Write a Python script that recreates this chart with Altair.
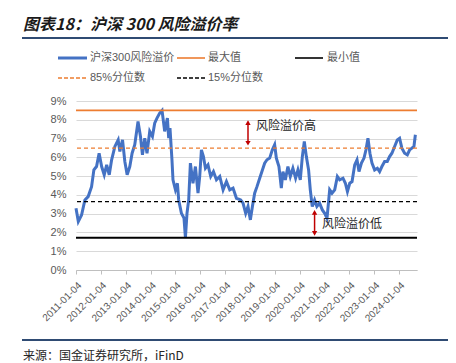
import altair as alt
import pandas as pd

# ---- data ----
dates = [
    "2011-01-04", "2011-02-07", "2011-03-27", "2011-05-15", "2011-07-02", "2011-08-21",
    "2011-09-24", "2011-11-02", "2011-12-10", "2012-01-16", "2012-02-23", "2012-03-30",
    "2012-05-07", "2012-06-11", "2012-07-29", "2012-09-15", "2012-10-10", "2012-11-18",
    "2012-12-22", "2013-01-25", "2013-03-05", "2013-04-08", "2013-05-17", "2013-07-04",
    "2013-08-09", "2013-09-07", "2013-10-11", "2013-11-13", "2013-12-23", "2014-02-01",
    "2014-03-06", "2014-04-09", "2014-05-19", "2014-06-22", "2014-07-31", "2014-09-09",
    "2014-09-28", "2014-10-17", "2014-11-15", "2014-11-30", "2015-01-05", "2015-02-03",
    "2015-02-22", "2015-04-03", "2015-05-11", "2015-06-01", "2015-06-24", "2015-07-19",
    "2015-08-13", "2015-09-20", "2015-10-26", "2015-12-03", "2015-12-28", "2016-01-22",
    "2016-02-21", "2016-03-21", "2016-04-28", "2016-06-07", "2016-07-17", "2016-08-30",
    "2016-10-18", "2016-12-06", "2017-01-24", "2017-03-14", "2017-05-01", "2017-06-20",
    "2017-08-22", "2017-09-25", "2017-11-03", "2017-12-07", "2018-01-11", "2018-02-10",
    "2018-03-15", "2018-04-18", "2018-05-28", "2018-07-07", "2018-08-09", "2018-09-12",
    "2018-10-22", "2018-11-30", "2019-01-03", "2019-01-28", "2019-03-07", "2019-04-11",
    "2019-05-05", "2019-06-09", "2019-07-17", "2019-08-21", "2019-09-28", "2019-11-07",
    "2019-12-11", "2020-01-15", "2020-02-14", "2020-03-14", "2020-04-13", "2020-05-16",
    "2020-06-10", "2020-07-09", "2020-08-12", "2020-09-15", "2020-10-25", "2020-12-04",
    "2021-01-08", "2021-02-11", "2021-03-22", "2021-04-25", "2021-06-04", "2021-07-13",
    "2021-08-16", "2021-10-04", "2021-11-08", "2021-12-08", "2022-01-11", "2022-02-14",
    "2022-03-25", "2022-04-28", "2022-05-27", "2022-07-02", "2022-08-09", "2022-09-07",
    "2022-10-06", "2022-11-04", "2022-12-04", "2023-01-12", "2023-02-21", "2023-03-26",
    "2023-04-29", "2023-06-08", "2023-07-17", "2023-08-20", "2023-09-23", "2023-11-02",
    "2023-12-11", "2024-01-14", "2024-02-17", "2024-03-28", "2024-05-07", "2024-06-10",
    "2024-07-13", "2024-08-12", "2024-09-02",
]
premium = [
    3.29, 2.58, 2.93, 3.73, 3.91, 4.44,
    5.33, 5.51, 6.22, 5.51, 5.07, 5.60,
    5.07, 5.87, 6.58, 6.93, 6.31, 6.93,
    5.78, 5.07, 5.51, 6.22, 6.67, 7.91,
    7.11, 6.13, 7.02, 6.22, 7.38, 7.11,
    7.82, 8.09, 8.36, 8.50, 7.38, 8.09,
    7.02, 7.56, 5.87, 4.80, 4.27, 4.62,
    3.73, 3.02, 2.76, 1.72, 3.02, 3.73,
    5.69, 4.62, 5.51, 4.09, 4.98, 6.40,
    6.04, 5.42, 5.60, 4.98, 5.24, 4.80,
    4.98, 4.27, 4.71, 4.27, 4.36, 3.82,
    3.73, 3.56, 3.02, 3.38, 2.67, 3.38,
    4.09, 4.44, 4.89, 5.33, 5.69, 5.87,
    5.96, 6.40, 6.67, 5.96, 5.51, 4.36,
    5.24, 4.80, 5.51, 4.98, 5.42, 4.89,
    5.33, 4.80, 6.04, 6.84, 6.04, 5.33,
    4.27, 3.38, 3.73, 3.38, 3.56, 3.20,
    3.02, 2.76, 4.27, 4.09, 4.27, 4.98,
    4.80, 4.89, 4.62, 4.18, 4.62, 4.71,
    5.60, 5.87, 5.24, 5.69, 5.96, 6.40,
    7.02, 6.22, 5.69, 5.33, 5.42, 5.24,
    5.51, 5.78, 5.78, 6.04, 6.22, 6.58,
    6.93, 7.02, 6.49, 6.22, 6.13, 6.40,
    6.49, 6.58, 7.20,
]
ref_names = ["最大值", "85%分位数", "15%分位数", "最小值"]
ref_values = [8.50, 6.49, 3.64, 1.72]
ref_colors = ["#ed7d31", "#ed7d31", "#000000", "#000000"]
ref_dashes = [[1, 0], [4, 3], [4, 3], [1, 0]]
ref_widths = [1.6, 1.4, 1.4, 2.0]

tick_years = list(range(2011, 2025))
y_ticks = list(range(0, 10))

arrow_dates = ["2017-12-07", "2020-08-12"]
arrow_top = [7.85, 3.07]
arrow_bottom = [6.75, 1.95]

TITLE = "图表18：沪深 300 风险溢价率"
SOURCE = "来源：国金证券研究所，iFinD"
SERIES_NAME = "沪深300风险溢价"

LAT = "'Liberation Sans', 'Noto Sans CJK SC', sans-serif"
CJK = "'Noto Sans CJK SC', sans-serif"
BLUE = "#4472c4"
GRAY = "#595959"

# ---- chart ----
df = pd.DataFrame({"date": dates, "v": premium})

x_scale = alt.Scale(domain=[alt.DateTime(year=2011, month=1, date=4),
                            alt.DateTime(year=2024, month=9, date=26)])
x_axis = alt.Axis(
    values=[alt.DateTime(year=y, month=1, date=4) for y in tick_years],
    format="%Y-%m-%d", labelAngle=-45, labelFontSize=10, labelFont=LAT,
    labelColor=GRAY, domainColor="#bfbfbf", tickColor="#bfbfbf", tickSize=4,
    grid=False, title=None, labelPadding=6, labelOverlap=False,
)
y_scale = alt.Scale(domain=[0, 9], nice=False)
y_axis = alt.Axis(
    values=y_ticks, labelExpr="datum.value + '%'", labelFontSize=11, labelFont=LAT,
    labelColor=GRAY, domain=False, ticks=False, grid=True, gridColor="#d9d9d9",
    gridWidth=1, labelPadding=10, title=None, labelOverlap=False,
)


def X(field):
    return alt.X(field, type="temporal", scale=x_scale, axis=x_axis)


def Y(field):
    return alt.Y(field, type="quantitative", scale=y_scale, axis=y_axis)


base_line = alt.Chart(df).mark_line(color=BLUE, strokeWidth=3).encode(
    x=X("date"), y=Y("v")
)

layers = [base_line]
for n, v, c, d, w in zip(ref_names, ref_values, ref_colors, ref_dashes, ref_widths):
    rdf = pd.DataFrame({"name": [n], "v": [v]})
    layers.append(
        alt.Chart(rdf).mark_rule(color=c, strokeWidth=w, strokeDash=d).encode(y=Y("v"))
    )

adf = pd.DataFrame({"date": arrow_dates, "top": arrow_top, "bottom": arrow_bottom})
RED = "#c00000"
layers.append(alt.Chart(adf).mark_rule(color=RED, strokeWidth=1.5).encode(
    x=X("date"), y=Y("top"), y2="bottom:Q"))
layers.append(alt.Chart(adf).mark_point(shape="triangle-up", filled=True, color=RED,
                                        size=28, opacity=1).encode(
    x=X("date"), y=Y("top")))
layers.append(alt.Chart(adf).mark_point(shape="triangle-down", filled=True, color=RED,
                                        size=28, opacity=1).encode(
    x=X("date"), y=Y("bottom")))

one = pd.DataFrame({"a": [0]})


def label(txt, x, y, size=11, color=GRAY, font=LAT, **kw):
    return alt.Chart(pd.DataFrame({"t": [txt]})).mark_text(
        align="left", baseline="middle", fontSize=size, color=color, font=font, **kw
    ).encode(x=alt.value(x), y=alt.value(y), text="t:N")


def seg(x1, x2, y, color, width, dash=None):
    kw = {"strokeDash": dash} if dash else {}
    return alt.Chart(one).mark_rule(color=color, strokeWidth=width, **kw).encode(
        x=alt.value(x1), x2=alt.value(x2), y=alt.value(y)
    )


# annotations
layers.append(label("风险溢价高", 180, 25, size=12, color="#262626", font=CJK))
layers.append(label("风险溢价低", 246, 123, size=12, color="#262626", font=CJK))

# legend (two rows, three columns)
layers += [
    seg(-18, 11, -43, BLUE, 3), label(SERIES_NAME, 14, -43),
    seg(101, 129, -43, ref_colors[0], 1.6), label(ref_names[0], 132, -43),
    seg(219, 247, -43, ref_colors[3], 1.6), label(ref_names[3], 251, -43),
    seg(-18, 11, -23, ref_colors[1], 1.6, [4, 2]), label(ref_names[1], 14, -23),
    seg(101, 129, -23, ref_colors[2], 1.6, [4, 2]), label(ref_names[2], 132, -23),
]

# title, frame lines and source
layers += [
    label(TITLE, -53, -76, size=16, color="#1a1a1a", font=CJK,
          fontWeight="bold", fontStyle="italic"),
    seg(-54, 380, -63, "#2f4b73", 2),
    seg(-54, 380, 239, "#2f4b73", 2),
    label(SOURCE, -53, 255, size=12, color="#262626", font=CJK),
]

chart = alt.layer(*layers).properties(
    width=341, height=169, autosize="none",
    padding={"left": 68, "top": 93, "right": 31, "bottom": 93},
).configure_view(stroke=None)

chart.save("out.html", embed_options={"renderer": "svg", "actions": False})
